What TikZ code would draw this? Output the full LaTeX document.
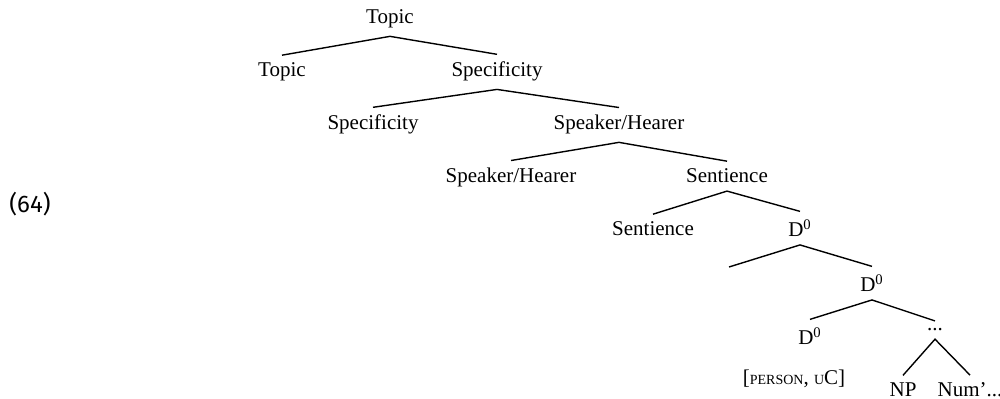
\documentclass[tikz,border=0pt]{standalone}
\usepackage{fontspec}
\setmainfont{Liberation Serif}
\newfontfamily\exfont{Fira Sans}
\newcommand\smcap[1]{{\fontsize{7}{8.4}\selectfont #1}}

\begin{document}
\begin{tikzpicture}[x=0.5pt, y=-0.5pt, font=\fontsize{10.5}{12.6}\selectfont,
	lbl/.style={anchor=base, inner sep=3.75pt},
	branch/.style={line width=0.7pt}]
			\useasboundingbox (0,0) rectangle (1000,399);
			\node[anchor=base, inner sep=0pt, font=\exfont\fontsize{12}{14}\selectfont] (ex) at (30,213) {(64)};
			\node[lbl] (top) at (390,24) {Topic};
			\node[lbl] (topl) at (282,77) {Topic};
			\node[lbl] (spec) at (497,77) {Specificity};
			\node[lbl] (specl) at (373,130) {Specificity};
			\node[lbl] (sh) at (619,130) {Speaker/Hearer};
			\node[lbl] (shl) at (511,183) {Speaker/Hearer};
			\node[lbl] (sent) at (727,183) {Sentience};
			\node[lbl] (sentl) at (653,236) {Sentience};
			\node[lbl] (d1) at (800,237) {D\textsuperscript{0}};
			\coordinate (gap) at (729,267);
			\node[lbl] (d2) at (872,292) {D\textsuperscript{0}};
			\node[lbl] (d3) at (810,345) {D\textsuperscript{0}};
			\node[lbl] (dots) at (935,331) {...};
			\node[lbl] (feat) at (794,385) {[\smcap{PERSON}, \smcap{U}C]};
			\node[lbl] (np) at (903,397) {NP};
			\node[lbl] (num) at (970,397) {Num'...};
			\draw[branch] (topl.north) -- (top.south) -- (spec.north);
			\draw[branch] (specl.north) -- (spec.south) -- (sh.north);
			\draw[branch] (shl.north) -- (sh.south) -- (sent.north);
			\draw[branch] (sentl.north) -- (sent.south) -- (d1.north);
			\draw[branch] (gap) -- (d1.south) -- (d2.north);
			\draw[branch] (d3.north) -- (d2.south) -- (dots.north);
			\draw[branch] (np.north) -- (dots.south) -- (num.north);
		\end{tikzpicture}
\end{document}
